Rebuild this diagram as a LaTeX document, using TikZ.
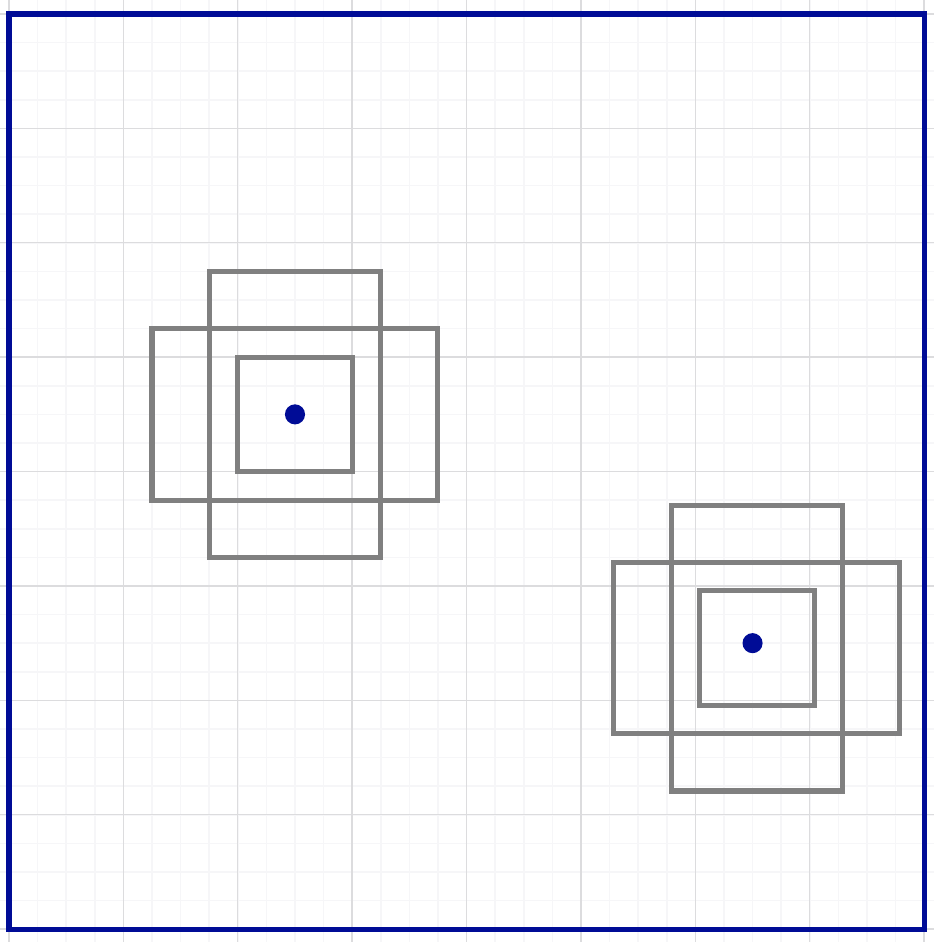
\documentclass[tikz,border=0pt]{standalone}
\usepackage{tikz}
\definecolor{navy}{RGB}{0,12,150}
\definecolor{finegray}{RGB}{246,246,248}
\definecolor{coarsegray}{RGB}{220,220,222}

\begin{document}
\begin{tikzpicture}[x = 0.25cm, y = -0.25cm,
                      site/.style = {circle, fill = navy, inner sep = 0pt, minimum size = 5pt},
                      core/.style = {rectangle, draw = gray, line width = 1.25pt, inner sep = 0pt,
                                     minimum width = 1cm, minimum height = 1cm},
                      wide/.style = {core, minimum width = 2.5cm, minimum height = 1.5cm},
                      tall/.style = {core, minimum width = 1.5cm, minimum height = 2.5cm}]
    \useasboundingbox (-0.315, -0.49) rectangle (32.34, 32.45);
    % grid
    \foreach \i in {0,...,32} {
      \draw [finegray, line width = 0.4pt] (\i, -0.49) -- (\i, 32.45);
      \draw [finegray, line width = 0.4pt] (-0.315, \i) -- (32.34, \i);
    }
    \foreach \i in {0,4,...,32} {
      \draw [coarsegray, line width = 0.35pt] (\i, -0.49) -- (\i, 32.45);
      \draw [coarsegray, line width = 0.35pt] (-0.315, \i) -- (32.34, \i);
    }
    % groups
    \coordinate (g1) at (10, 14);
    \coordinate (g2) at (26.15, 22.17);
    \node [tall] (t1) at (g1){};
    \node [wide] (w1) at (g1){};
    \node [core] (c1) at (g1){};
    \node [tall] (t2) at (g2){};
    \node [wide] (w2) at (g2){};
    \node [core] (c2) at (g2){};
    \draw [navy, line width = 1.25pt] (0, 0) rectangle (32, 32);
    \node [site] (s1) at (10, 14){};
    \node [site] (s2) at (26, 22){};
    \end{tikzpicture}
\end{document}
